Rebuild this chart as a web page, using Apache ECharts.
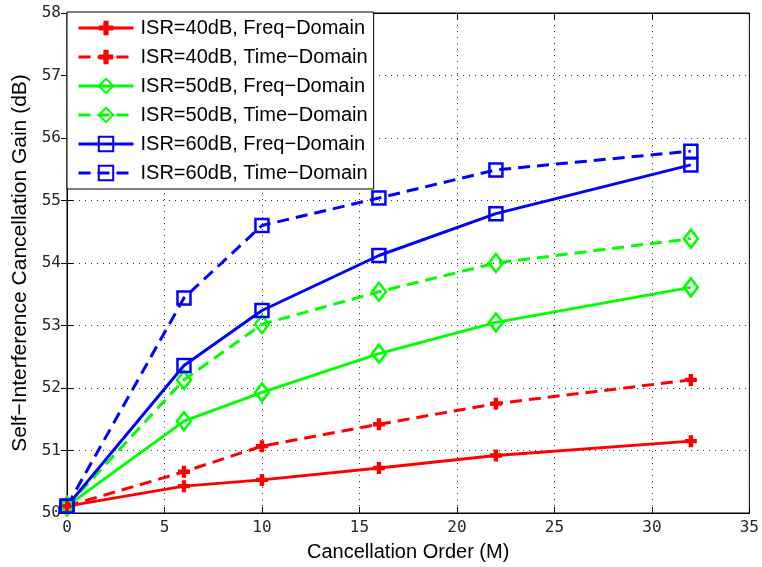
<!DOCTYPE html>
<html><head><meta charset="utf-8">
<script src="https://cdn.jsdelivr.net/npm/echarts@6/dist/echarts.min.js"></script>
<style>html,body{margin:0;padding:0;background:#fff}#c{width:762px;height:567px}</style>
</head><body><div id="c"></div>
<script>
const orders = [0, 6, 10, 16, 22, 32];
const isr40Freq = [50.11, 50.43, 50.53, 50.72, 50.92, 51.15];
const isr40Time = [50.11, 50.66, 51.07, 51.42, 51.75, 52.13];
const isr50Freq = [50.11, 51.47, 51.93, 52.55, 53.05, 53.61];
const isr50Time = [50.11, 52.13, 53.02, 53.54, 54.00, 54.39];
const isr60Freq = [50.11, 52.36, 53.24, 54.12, 54.79, 55.57];
const isr60Time = [50.11, 53.44, 54.60, 55.04, 55.49, 55.79];
const names = ['ISR=40dB, Freq\u2212Domain','ISR=40dB, Time\u2212Domain','ISR=50dB, Freq\u2212Domain','ISR=50dB, Time\u2212Domain','ISR=60dB, Freq\u2212Domain','ISR=60dB, Time\u2212Domain'];

const plusPath = 'path://M3.5,0h4v3.5h3.5v4h-3.5v3.5h-4v-3.5h-3.5v-4h3.5z';
function mk(name, vals, color, dashed, sym, size) {
  const hollow = sym !== plusPath;
  return {
    name: name, type: 'line',
    data: orders.map((x, i) => [x, vals[i]]),
    symbol: sym, symbolSize: size, showAllSymbol: true,
    lineStyle: {color: color, width: 3, type: dashed ? [12, 7] : 'solid'},
    itemStyle: hollow ? {color: 'rgba(255,255,255,0)', borderColor: color, borderWidth: 2.5}
                      : {color: color, borderWidth: 0},
    emphasis: {disabled: true},
    animation: false
  };
}
const tickFont = {fontFamily: 'DejaVu Sans Mono', fontSize: 16, color: '#262626'};
const chart = echarts.init(document.getElementById('c'));
chart.setOption({
  backgroundColor: '#fff',
  animation: false,
  grid: {left: 67, right: 9, top: 13, bottom: 52, show: true, borderColor: '#000', borderWidth: 1, containLabel: false},
  legend: {
    orient: 'vertical', left: 67, top: 12,
    padding: [6, 6, 6, 10],
    backgroundColor: '#fff', borderColor: '#000', borderWidth: 1,
    itemWidth: 55, itemHeight: 18, itemGap: 9,
    lineStyle: {width: 3},
    textStyle: {fontFamily: 'Liberation Sans', fontSize: 20, lineHeight: 20, color: '#000', padding: [0, 0, 0, 2]},
    data: names
  },
  xAxis: [{
    type: 'value', min: 0, max: 35, interval: 5,
    name: 'Cancellation Order (M)', nameLocation: 'middle', nameGap: 29,
    nameTextStyle: {fontFamily: 'Liberation Sans', fontSize: 20, color: '#000'},
    axisLine: {lineStyle: {color: '#000'}},
    axisTick: {inside: true, length: 6, lineStyle: {color: '#000'}},
    axisLabel: Object.assign({margin: 7}, tickFont),
    splitLine: {show: true, lineStyle: {color: '#333', type: [1, 5], width: 1}}
  }, {
    type: 'value', min: 0, max: 35, interval: 5, position: 'top',
    axisLine: {lineStyle: {color: '#000'}},
    axisTick: {inside: true, length: 6, lineStyle: {color: '#000'}},
    axisLabel: {show: false}, splitLine: {show: false}
  }],
  yAxis: [{
    type: 'value', min: 50, max: 58, interval: 1,
    name: 'Self\u2212Interference Cancellation Gain (dB)', nameLocation: 'middle', nameGap: 36,
    nameTextStyle: {fontFamily: 'Liberation Sans', fontSize: 21, color: '#000'},
    axisLine: {lineStyle: {color: '#000'}},
    axisTick: {inside: true, length: 6, lineStyle: {color: '#000'}},
    axisLabel: Object.assign({margin: 6}, tickFont),
    splitLine: {show: true, lineStyle: {color: '#333', type: [1, 5], width: 1}}
  }, {
    type: 'value', min: 50, max: 58, interval: 1, position: 'right',
    axisLine: {lineStyle: {color: '#000'}},
    axisTick: {inside: true, length: 6, lineStyle: {color: '#000'}},
    axisLabel: {show: false}, splitLine: {show: false}
  }],
  series: [
    mk(names[0], isr40Freq, '#ff0000', false, plusPath, 12),
    mk(names[1], isr40Time, '#ff0000', true, plusPath, 12),
    mk(names[2], isr50Freq, '#00ff00', false, 'diamond', [14, 18]),
    mk(names[3], isr50Time, '#00ff00', true, 'diamond', [14, 18]),
    mk(names[4], isr60Freq, '#0000ff', false, 'rect', [13, 13]),
    mk(names[5], isr60Time, '#0000ff', true, 'rect', [13, 13])
  ]
});
</script></body></html>
